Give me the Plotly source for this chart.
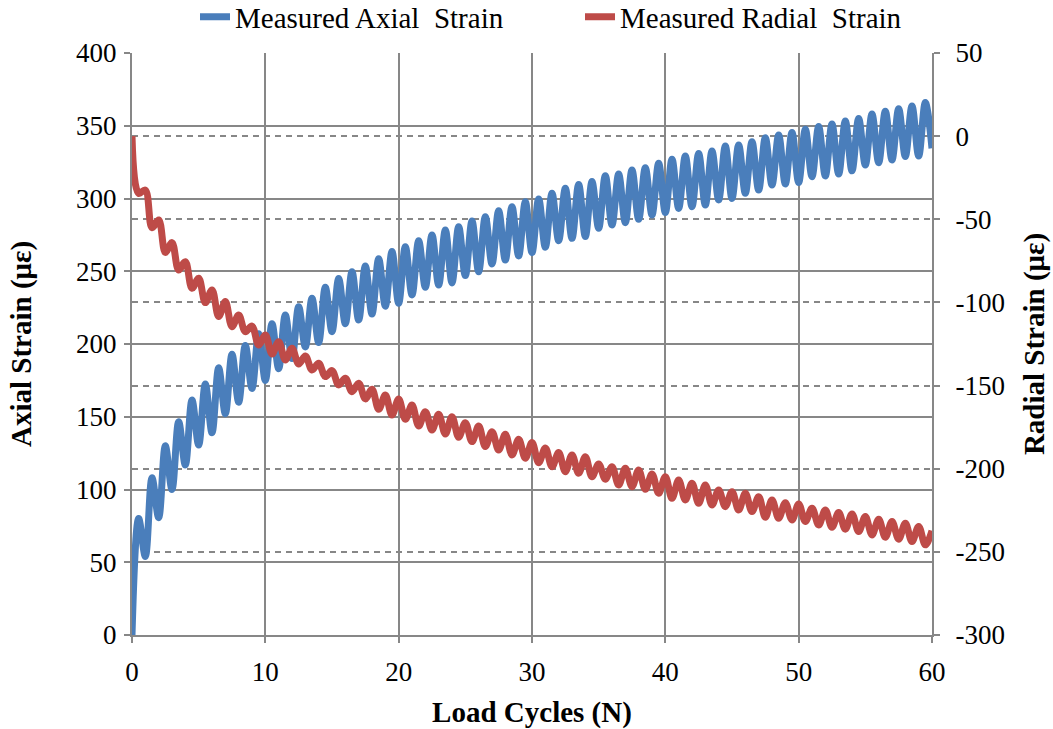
import plotly.graph_objects as go

# Load cycle positions (peaks/troughs read at every half cycle)
cycles = [0, 0.5, 1, 1.5, 2, 2.5, 3, 3.5, 4, 4.5, 5, 5.5, 6, 6.5, 7, 7.5, 8, 8.5, 9, 9.5,
          10, 10.5, 11, 11.5, 12, 12.5, 13, 13.5, 14, 14.5, 15, 15.5, 16, 16.5, 17, 17.5, 18, 18.5, 19, 19.5,
          20, 20.5, 21, 21.5, 22, 22.5, 23, 23.5, 24, 24.5, 25, 25.5, 26, 26.5, 27, 27.5, 28, 28.5, 29, 29.5,
          30, 30.5, 31, 31.5, 32, 32.5, 33, 33.5, 34, 34.5, 35, 35.5, 36, 36.5, 37, 37.5, 38, 38.5, 39, 39.5,
          40, 40.5, 41, 41.5, 42, 42.5, 43, 43.5, 44, 44.5, 45, 45.5, 46, 46.5, 47, 47.5, 48, 48.5, 49, 49.5,
          50, 50.5, 51, 51.5, 52, 52.5, 53, 53.5, 54, 54.5, 55, 55.5, 56, 56.5, 57, 57.5, 58, 58.5, 59, 59.5, 60]

axial_strain = [0, 80, 54, 108, 80.6, 130, 100, 146.6, 116.8, 161.5, 130.6, 172.5, 139, 183.7, 152, 193, 160, 199, 169.5, 207,
                175, 214, 183, 220, 190, 225.6, 198, 231.4, 201, 239, 208.5, 245, 214, 249.7, 216.5, 253.6, 220.6, 258.6, 226, 263.5,
                228, 266.9, 233.7, 271, 239, 275, 240.5, 278.4, 242, 280.6, 247, 284.5, 249.7, 287.5, 255, 291.6, 257.7, 294.4, 260.5, 297.8,
                262.8, 299.7, 266.5, 303.6, 271, 307, 272.6, 309.7, 273.8, 311.6, 279.5, 315.7, 281.8, 316.8, 283.4, 319.6, 285.7, 321.2, 288.7, 324.2,
                290.3, 327, 293.2, 329.2, 294.4, 331, 295.5, 332.6, 299, 336, 300, 336.8, 303.6, 339, 305.8, 341.8, 309.3, 343.6, 310, 345.3,
                311, 347.6, 315, 349.4, 315.5, 351.2, 316.8, 353.3, 319, 355, 323, 358, 324.6, 360, 326.5, 361.7, 328.8, 363.6, 329.2, 365.9, 334.5]

radial_strain = [0, -34.4, -32.4, -55, -50.4, -69.9, -64, -80.5, -75.5, -91.5, -85.5, -100.1, -92.5, -108.5, -99.5, -114.6, -107.5, -117.6, -114.2, -125.6,
                 -119.6, -131, -123.6, -134.6, -127.6, -137, -132.2, -140.6, -136.6, -144.6, -141, -149.6, -145.6, -153.7, -148.6, -158, -152.2, -164.3, -155.7, -167.7,
                 -158.1, -170.3, -161.7, -174.3, -165.7, -176.7, -167.3, -179.1, -168.7, -181.1, -172.3, -183.7, -174.3, -186.7, -177.7, -188.7, -179.3, -191.7, -182.3, -193.7,
                 -184.3, -196.4, -187.5, -198.8, -190.3, -201.8, -191.7, -202.7, -192.8, -204.8, -197.1, -206.3, -198.8, -209.8, -199.7, -210.8, -200.7, -212.4, -203.2, -214.8,
                 -204.8, -217.8, -206.8, -218.8, -208.8, -220.8, -209.8, -221.8, -212.8, -222.8, -213.8, -224.8, -214.8, -225.8, -216.8, -229.2, -218.8, -229.8, -220.4, -230.8,
                 -221.2, -231.8, -223.8, -233.8, -224.8, -235.2, -226.4, -236.4, -227.2, -237.8, -228.8, -239.8, -230.4, -241.2, -231.8, -242.4, -232.8, -243.8, -234.8, -245.8, -237.3]

x_ticks = [0, 10, 20, 30, 40, 50, 60]
left_ticks = [0, 50, 100, 150, 200, 250, 300, 350, 400]
right_ticks = [-300, -250, -200, -150, -100, -50, 0, 50]

FONT = "Liberation Serif, Times New Roman, serif"
GRID = "#878787"
TICK_SIZE = 27
TITLE_SIZE = 29

fig = go.Figure()
fig.add_trace(go.Scatter(x=cycles, y=axial_strain, mode="lines", name="Measured Axial\u00a0 Strain",
                         line=dict(color="#4A7EBB", width=7, shape="spline", smoothing=1.0), yaxis="y"))
fig.add_trace(go.Scatter(x=cycles, y=radial_strain, mode="lines", name="Measured Radial\u00a0 Strain",
                         line=dict(color="#BE4B48", width=7, shape="spline", smoothing=1.0), yaxis="y2"))

fig.update_layout(
    width=1053, height=729,
    margin=dict(l=132, r=121, t=53, b=94, autoexpand=False),
    paper_bgcolor="white", plot_bgcolor="white",
    font=dict(family=FONT, size=TICK_SIZE, color="black"),
    showlegend=True,
    legend=dict(orientation="h", x=0.56, xanchor="center", y=1.062, yanchor="middle",
                font=dict(family=FONT, size=TITLE_SIZE, color="black"), itemwidth=30,
                entrywidth=340, entrywidthmode="pixels",
                bgcolor="rgba(0,0,0,0)", traceorder="normal"),
    xaxis=dict(range=[0, 60], tickvals=x_ticks, ticktext=[str(v) for v in x_ticks],
               showgrid=True, gridcolor=GRID, gridwidth=2, zeroline=False,
               showline=True, linecolor=GRID, linewidth=2,
               ticks="outside", ticklen=6, tickcolor=GRID, tickwidth=2,
               ticklabelstandoff=6,
               tickfont=dict(family=FONT, size=TICK_SIZE),
               title=dict(text="<b>Load Cycles (N)</b>", font=dict(family=FONT, size=TITLE_SIZE), standoff=16)),
    yaxis=dict(range=[0, 400], tickvals=left_ticks, ticktext=[str(v) for v in left_ticks],
               showgrid=True, gridcolor=GRID, gridwidth=2, zeroline=False,
               showline=True, linecolor=GRID, linewidth=2,
               ticks="outside", ticklen=6, tickcolor=GRID, tickwidth=2,
               ticklabelstandoff=2,
               tickfont=dict(family=FONT, size=TICK_SIZE),
               title=dict(text="<b>Axial Strain (με)</b>", font=dict(family=FONT, size=TITLE_SIZE), standoff=36)),
    yaxis2=dict(range=[-300, 50], tickvals=right_ticks, ticktext=[str(v) for v in right_ticks],
                overlaying="y", side="right",
                showgrid=True, gridcolor=GRID, gridwidth=1.5, griddash="6px,5px", zeroline=False,
                showline=True, linecolor=GRID, linewidth=2,
                ticks="outside", ticklen=6, tickcolor=GRID, tickwidth=2,
                ticklabelstandoff=10,
                tickfont=dict(family=FONT, size=TICK_SIZE),
                title=dict(text="<b>Radial Strain (με)</b>", font=dict(family=FONT, size=TITLE_SIZE), standoff=20)),
)

fig.write_html("out.html")
